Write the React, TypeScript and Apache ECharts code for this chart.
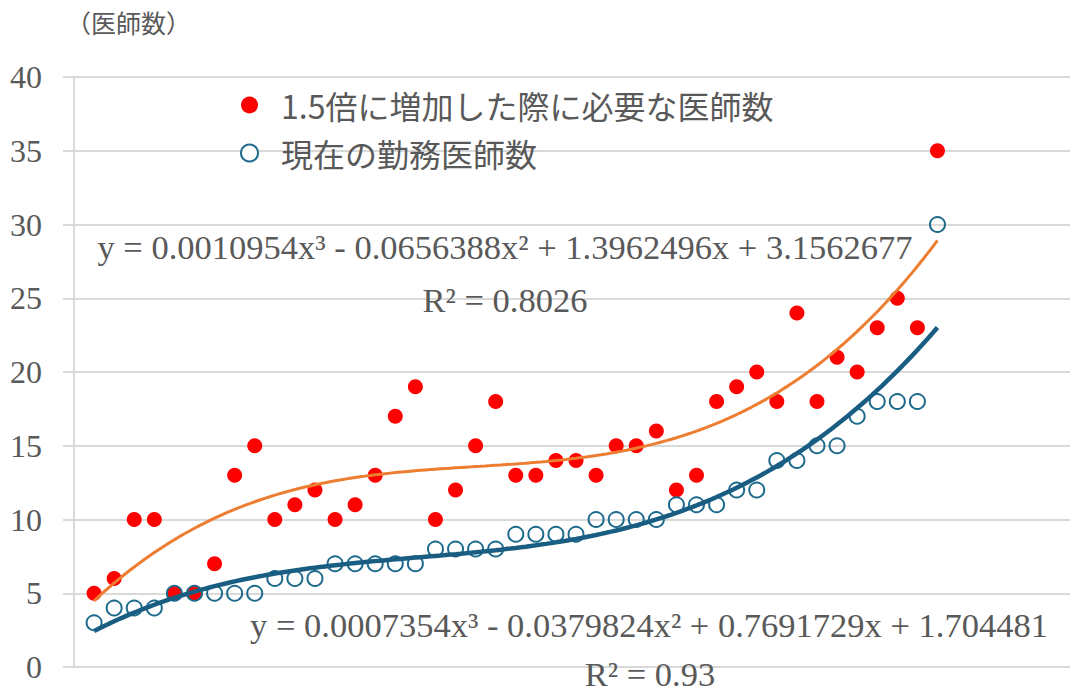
import React, { useEffect, useRef } from "react";
import * as echarts from "echarts";

const redValues = [5, 6, 10, 10, 5, 5, 7, 13, 15, 10, 11, 12, 10, 11, 13, 17, 19, 10, 12, 15, 18, 13, 13, 14, 14, 13, 15, 15, 16, 12, 13, 18, 19, 20, 18, 24, 18, 21, 20, 23, 25, 23, 35];
const blueValues = [3, 4, 4, 4, 5, 5, 5, 5, 5, 6, 6, 6, 7, 7, 7, 7, 7, 8, 8, 8, 8, 9, 9, 9, 9, 10, 10, 10, 10, 11, 11, 11, 12, 12, 14, 14, 15, 15, 17, 18, 18, 18, 30];
const redCoef = [3.1562677, 1.3962496, -0.0656388, 0.0010954];
const blueCoef = [1.704481, 0.7691729, -0.0379824, 0.0007354];
const redName = "1.5倍に増加した際に必要な医師数";
const blueName = "現在の勤務医師数";
const redEq = "y = 0.0010954x³ - 0.0656388x² + 1.3962496x + 3.1562677";
const redR2 = "R² = 0.8026";
const blueEq = "y = 0.0007354x³ - 0.0379824x² + 0.7691729x + 1.704481";
const blueR2 = "R² = 0.93";
const yTitle = "（医師数）";

const RED = "#FF0000";
const BLUE = "#1D6A8D";
const BLUE_LINE = "#195E82";
const ORANGE = "#ED7D31";
const TEXT = "#595959";
const GRID = "#D9D9D9";
const SERIF = "'Liberation Serif', 'Times New Roman', serif";
const JP = "'Noto Sans CJK JP', sans-serif";

function trend(coef: number[], n: number) {
  const pts: number[][] = [];
  for (let x = 1; x <= n + 1e-9; x += 0.25) {
    const y = coef[0] + coef[1] * x + coef[2] * x * x + coef[3] * x * x * x;
    pts.push([x, y]);
  }
  return pts;
}

export default function App() {
  const ref = useRef<HTMLDivElement>(null);
  useEffect(() => {
    if (!ref.current) return;
    const chart = echarts.init(ref.current, undefined, { renderer: "svg" });
    const n = redValues.length;
    chart.setOption({
      animation: false,
      backgroundColor: "#ffffff",
      grid: { left: 74, right: 0, top: 77, bottom: 26 },
      xAxis: {
        type: "value",
        min: 0,
        max: 49.6,
        axisLine: { show: false },
        axisTick: { show: false },
        axisLabel: { show: false },
        splitLine: { show: false },
      },
      yAxis: {
        type: "value",
        min: 0,
        max: 40,
        interval: 5,
        axisLine: { show: true, lineStyle: { color: GRID, width: 2 } },
        axisTick: { show: true, length: 11, lineStyle: { color: GRID, width: 2 } },
        axisLabel: { color: TEXT, fontFamily: SERIF, fontSize: 32, margin: 32 },
        splitLine: { show: true, lineStyle: { color: GRID, width: 2 } },
      },
      legend: {
        orient: "vertical",
        left: 240,
        top: 89,
        padding: 0,
        itemWidth: 17,
        itemHeight: 17,
        itemGap: 16,
        textStyle: { color: TEXT, fontFamily: JP, fontSize: 32, lineHeight: 32, padding: [0, 0, 0, 18] },
        data: [
          { name: redName, icon: "circle", itemStyle: { color: RED, borderWidth: 0 } },
          { name: blueName, icon: "circle", itemStyle: { color: "#ffffff", borderColor: BLUE, borderWidth: 2 } },
        ],
      },
      series: [
        {
          name: redName,
          type: "scatter",
          symbol: "circle",
          symbolSize: 15,
          itemStyle: { color: RED, opacity: 1 },
          data: redValues.map((v, i) => [i + 1, v]),
          z: 2,
        },
        {
          name: blueName,
          type: "scatter",
          symbol: "circle",
          symbolSize: 15,
          itemStyle: { color: "rgba(255,255,255,0)", borderColor: BLUE, borderWidth: 2, opacity: 1 },
          data: blueValues.map((v, i) => [i + 1, v]),
          z: 3,
        },
        {
          name: "redTrend",
          type: "line",
          showSymbol: false,
          symbol: "none",
          lineStyle: { color: ORANGE, width: 3 },
          data: trend(redCoef, n),
          z: 4,
        },
        {
          name: "blueTrend",
          type: "line",
          showSymbol: false,
          symbol: "none",
          lineStyle: { color: BLUE_LINE, width: 4.5 },
          data: trend(blueCoef, n),
          z: 4,
        },
      ],
      graphic: [
        { type: "text", left: 66, top: 9, style: { text: yTitle, fill: TEXT, font: `25px ${JP}` } },
        { type: "text", x: 505, y: 247, style: { text: redEq, fill: TEXT, font: `34.5px ${SERIF}`, textAlign: "center", textVerticalAlign: "middle" }, z: 10 },
        { type: "text", x: 505, y: 300, style: { text: redR2, fill: TEXT, font: `34.5px ${SERIF}`, textAlign: "center", textVerticalAlign: "middle" }, z: 10 },
        { type: "text", x: 649, y: 625, style: { text: blueEq, fill: TEXT, font: `34.5px ${SERIF}`, textAlign: "center", textVerticalAlign: "middle" }, z: 10 },
        { type: "text", x: 650, y: 674, style: { text: blueR2, fill: TEXT, font: `34.5px ${SERIF}`, textAlign: "center", textVerticalAlign: "middle" }, z: 10 },
      ],
    });
    return () => chart.dispose();
  }, []);
  return (
    <div
      ref={ref}
      style={{ position: "fixed", left: 0, top: 0, width: 1070, height: 693, background: "#fff" }}
    />
  );
}
